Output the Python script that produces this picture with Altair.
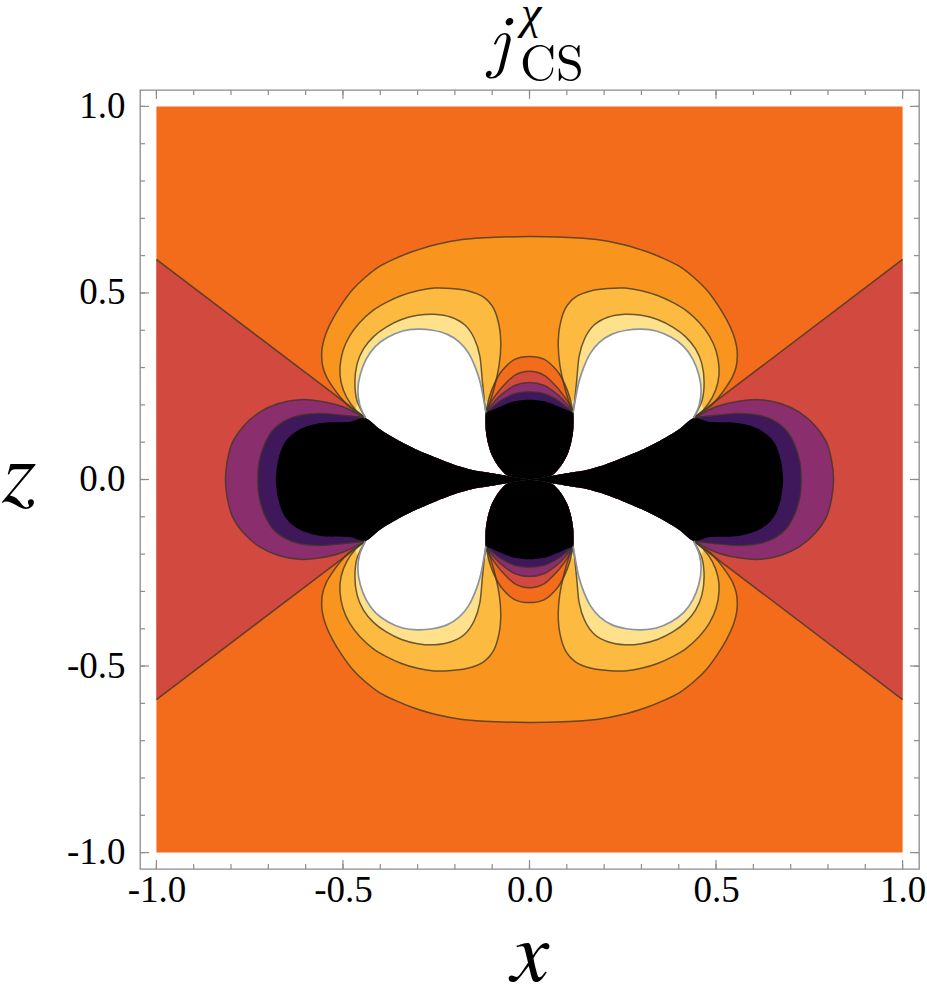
import altair as alt
import pandas as pd

# ---------------- axis data ----------------
TICK_MAJOR = [-1.0, -0.5, 0.0, 0.5, 1.0]
TICK_MINOR = [-1.0, -0.9, -0.8, -0.7, -0.6, -0.5, -0.4, -0.3, -0.2, -0.1, 0.0,
              0.1, 0.2, 0.3, 0.4, 0.5, 0.6, 0.7, 0.8, 0.9, 1.0]
DOMAIN = [-1.044, 1.044]
PLOT_RANGE = [-1.0, 1.0]

# ---------------- band colours (low -> high) ----------------
C_BLACK = "#000000"
C_DPURPLE = "#3e185b"
C_MAGENTA = "#8b2e6e"
C_RED = "#d1493f"
C_ORANGE = "#f26c1b"
C_LORANGE = "#f9951f"
C_YORANGE = "#fdba40"
C_LYELLOW = "#ffe08b"
C_WHITE = "#ffffff"

# ---------------- contour geometry (first quadrant) ----------------
# x-lobe upper edge (= lower edge of white lobe), origin -> junction point P1
E_X = [0.0, 0.03, 0.055, 0.1, 0.15, 0.2, 0.25, 0.3, 0.35, 0.4, 0.44]
E_Z = [0.0, 0.004, 0.009, 0.017, 0.025, 0.039, 0.058, 0.079, 0.104, 0.134, 0.165]
# z-lobe side edge (= left edge of white lobe), origin -> junction point P2
ZE_X = [0.0, 0.055, 0.075, 0.09, 0.103, 0.112, 0.117, 0.118, 0.117]
ZE_Z = [0.0, 0.009, 0.025, 0.045, 0.07, 0.1, 0.13, 0.155, 0.18]
# white lobe cap, P2 -> P1
WC_X = [0.117, 0.124, 0.132, 0.145, 0.163, 0.188, 0.22, 0.26, 0.3, 0.34, 0.38, 0.413, 0.438, 0.454, 0.46, 0.455, 0.44]
WC_Z = [0.18, 0.22, 0.26, 0.3, 0.338, 0.368, 0.389, 0.4, 0.403, 0.398, 0.381, 0.357, 0.322, 0.28, 0.24, 0.2, 0.165]
# light-yellow band outer edge, P2 -> P1
LY_X = [0.117, 0.122, 0.127, 0.133, 0.148, 0.173, 0.21, 0.255, 0.3, 0.343, 0.385, 0.418, 0.445, 0.462, 0.468, 0.462, 0.44]
LY_Z = [0.18, 0.22, 0.27, 0.33, 0.378, 0.414, 0.435, 0.443, 0.44, 0.429, 0.408, 0.383, 0.35, 0.31, 0.26, 0.21, 0.165]
# yellow-orange band outer edge, P2 -> P1
YO_X = [0.117, 0.105, 0.091, 0.081, 0.077, 0.081, 0.096, 0.125, 0.166, 0.21, 0.255, 0.3, 0.343, 0.385, 0.421,
        0.455, 0.482, 0.5, 0.508, 0.505, 0.49, 0.466, 0.44]
YO_Z = [0.18, 0.21, 0.26, 0.31, 0.36, 0.41, 0.458, 0.49, 0.506, 0.512, 0.513, 0.506, 0.493, 0.474, 0.452,
        0.421, 0.385, 0.345, 0.3, 0.26, 0.22, 0.186, 0.165]
# light-orange "peanut" outer edge, z-axis -> P1
PN_X = [0.0, 0.09, 0.18, 0.25, 0.313, 0.36, 0.402, 0.44, 0.474, 0.503, 0.528, 0.546, 0.555, 0.557, 0.554,
        0.544, 0.528, 0.508, 0.484, 0.46, 0.44]
PN_Z = [0.651, 0.649, 0.643, 0.63, 0.611, 0.592, 0.571, 0.542, 0.509, 0.47, 0.429, 0.39, 0.357, 0.33, 0.303,
        0.275, 0.249, 0.222, 0.196, 0.178, 0.165]
# zero line bounding the red wedge
WEDGE_X = [1.0, 0.44]
WEDGE_Z = [0.59, 0.165]
# z-lobe arcs, z-axis -> P2
ZA_X = [0.0, 0.04, 0.075, 0.095, 0.108, 0.117]
ZA_ORANGE = [0.33, 0.322, 0.29, 0.255, 0.22, 0.18]
ZA_RED = [0.29, 0.279, 0.246, 0.22, 0.2, 0.18]
ZA_MAGENTA = [0.26, 0.252, 0.228, 0.208, 0.193, 0.18]
ZA_DPURPLE = [0.235, 0.23, 0.213, 0.198, 0.188, 0.18]
ZA_BLACK = [0.214, 0.21, 0.197, 0.188, 0.183, 0.18]
# x-lobe arcs, P1 -> x-axis
XA_MAG_X = [0.44, 0.5, 0.56, 0.617, 0.675, 0.724, 0.765, 0.796, 0.81, 0.815]
XA_MAG_Z = [0.165, 0.195, 0.21, 0.214, 0.203, 0.18, 0.145, 0.1, 0.05, 0.0]
XA_DP_X = [0.44, 0.5, 0.56, 0.62, 0.66, 0.69, 0.712, 0.725, 0.728]
XA_DP_Z = [0.165, 0.172, 0.177, 0.171, 0.155, 0.13, 0.09, 0.045, 0.0]
XA_BLK_X = [0.44, 0.48, 0.544, 0.585, 0.617, 0.645, 0.662, 0.674, 0.68]
XA_BLK_Z = [0.165, 0.155, 0.153, 0.146, 0.134, 0.113, 0.088, 0.05, 0.0]


# ---------------- helpers to assemble polygons ----------------
def P(xs, zs):
    return list(zip(xs, zs))


def mx(p):
    return [(-x, z) for x, z in p]


def mz(p):
    return [(x, -z) for x, z in p]


def quad(p, sx, sz):
    return [(sx * x, sz * z) for x, z in p]


E = P(E_X, E_Z)
ZE = P(ZE_X, ZE_Z)
P1 = E[-1]
P2 = ZE[-1]

fills = []   # (paint layer, colour, interpolate, shapes)


def zcap(arc):
    return mx(arc)[::-1] + arc[1:]


def xcap(arc):
    return arc + mz(arc)[::-1][1:]


# red wedges
wedge_r = [(1.0, WEDGE_Z[0]), P1, (0.3, 0.0), (P1[0], -P1[1]), (1.0, -WEDGE_Z[0])]
fills.append(("wedge", C_RED, "linear", [wedge_r, mx(wedge_r)]))

# peanut
pn = P(PN_X, PN_Z)
pn_cap = zcap(pn)
pn_up = pn_cap + [P2, (-P2[0], P2[1])]
fills.append(("peanut", C_LORANGE, "cardinal-closed", [pn_up, mz(pn_up)]))

# lobes around white
for name, col, xs, zs in [("yorange", C_YORANGE, YO_X, YO_Z), ("lyellow", C_LYELLOW, LY_X, LY_Z)]:
    base = P(xs, zs)
    fills.append((name, col, "cardinal-closed",
                  [quad(base, sx, sz) for sx in (1, -1) for sz in (1, -1)]))
white = ZE[1:] + P(WC_X, WC_Z)[1:] + E[-2:1:-1]
fills.append(("white", C_WHITE, "cardinal-closed",
              [quad(white, sx, sz) for sx in (1, -1) for sz in (1, -1)]))

# z-lobe stack
for name, col, zs in [("z_orange", C_ORANGE, ZA_ORANGE), ("z_red", C_RED, ZA_RED),
                      ("z_magenta", C_MAGENTA, ZA_MAGENTA), ("z_dpurple", C_DPURPLE, ZA_DPURPLE),
                      ("z_black", C_BLACK, ZA_BLACK)]:
    cap = zcap(P(ZA_X, zs))
    poly = cap + ZE[::-1][1:] + mx(ZE)[1:-1]
    fills.append((name, col, "cardinal-closed", [poly, mz(poly)]))

# x-lobe stack
for name, col, xs, zs in [("x_magenta", C_MAGENTA, XA_MAG_X, XA_MAG_Z),
                          ("x_dpurple", C_DPURPLE, XA_DP_X, XA_DP_Z),
                          ("x_black", C_BLACK, XA_BLK_X, XA_BLK_Z)]:
    arc = P(xs, zs)
    poly = E + xcap(arc)[1:] + mz(E)[::-1][1:-1]
    fills.append((name, col, "cardinal-closed", [poly, mx(poly)]))

# contour lines
dark_lines = []
wl = P(WEDGE_X, WEDGE_Z)
dark_lines += [quad(wl, sx, sz) for sx in (1, -1) for sz in (1, -1)]
dark_lines += [pn_cap, mz(pn_cap)]
for xs, zs in [(YO_X, YO_Z), (LY_X, LY_Z)]:
    dark_lines += [quad(P(xs, zs), sx, sz) for sx in (1, -1) for sz in (1, -1)]
for zs in [ZA_ORANGE, ZA_RED, ZA_MAGENTA, ZA_DPURPLE]:
    c = zcap(P(ZA_X, zs))
    dark_lines += [c, mz(c)]
for xs, zs in [(XA_MAG_X, XA_MAG_Z), (XA_DP_X, XA_DP_Z)]:
    c = xcap(P(xs, zs))
    dark_lines += [c, mx(c)]
gray_lines = [quad(P(WC_X, WC_Z), sx, sz) for sx in (1, -1) for sz in (1, -1)]


def frame(shapes):
    rows = []
    for s, poly in enumerate(shapes):
        for i, (x, z) in enumerate(poly):
            rows.append({"shape": s, "i": i, "x": x, "z": z})
    return pd.DataFrame(rows)


W = 779
H = 779
FONT = "Liberation Serif"
FONT_ITALIC = "TeX Gyre Termes"
FONT_TEX = "Latin Modern Roman"
LABEL_EXPR = "datum.value < 0 ? '-' + format(abs(datum.value), '.1f') : format(datum.value, '.1f')"
xscale = alt.Scale(domain=DOMAIN, nice=False, zero=False)
yscale = alt.Scale(domain=DOMAIN, nice=False, zero=False)
xaxis = alt.Axis(values=TICK_MAJOR, ticks=False, domain=False, grid=False, labelFont=FONT,
                 labelFontSize=37, labelColor="black", labelPadding=3, labelExpr=LABEL_EXPR,
                 labelFlush=False, labelOverlap=False, title=None)
yaxis = alt.Axis(values=TICK_MAJOR, ticks=False, domain=False, grid=False, labelFont=FONT,
                 labelFontSize=37, labelColor="black", labelPadding=15, labelExpr=LABEL_EXPR,
                 labelFlush=False, labelOverlap=False, title=None)


def X(field):
    return alt.X(field, scale=xscale, axis=xaxis)


def Y(field):
    return alt.Y(field, scale=yscale, axis=yaxis)


bg_df = pd.DataFrame({"x0": [PLOT_RANGE[0]], "x1": [PLOT_RANGE[1]],
                      "y0": [PLOT_RANGE[0]], "y1": [PLOT_RANGE[1]]})
layers = [
    alt.Chart(bg_df).mark_rect(color=C_ORANGE).encode(
        x=X("x0:Q"), x2="x1:Q", y=Y("y0:Q"), y2="y1:Q")
]

for name, col, interp, shapes in fills:
    layers.append(
        alt.Chart(frame(shapes)).mark_line(filled=True, fill=col, interpolate=interp, tension=0.2).encode(
            x=X("x:Q"), y=Y("z:Q"), detail="shape:N", order="i:Q"))

layers.append(
    alt.Chart(frame(dark_lines)).mark_line(stroke="#3d3626", strokeOpacity=0.78, strokeWidth=1.5,
                                           interpolate="cardinal", tension=0.2).encode(
        x=X("x:Q"), y=Y("z:Q"), detail="shape:N", order="i:Q"))
layers.append(
    alt.Chart(frame(gray_lines)).mark_line(stroke="#8a94a0", strokeWidth=1.7,
                                           interpolate="cardinal", tension=0.2).encode(
        x=X("x:Q"), y=Y("z:Q"), detail="shape:N", order="i:Q"))

# frame ticks, pointing inwards on all four sides
TICK_COLOR = "#8c8c8c"
for vals, ln in [(TICK_MINOR, 5), (TICK_MAJOR, 9)]:
    tdf = pd.DataFrame({"v": vals})
    layers.append(alt.Chart(tdf).mark_rule(color=TICK_COLOR, strokeWidth=1.2).encode(
        x=X("v:Q"), y=alt.value(0), y2=alt.value(ln)))
    layers.append(alt.Chart(tdf).mark_rule(color=TICK_COLOR, strokeWidth=1.2).encode(
        x=X("v:Q"), y=alt.value(H), y2=alt.value(H - ln)))
    layers.append(alt.Chart(tdf).mark_rule(color=TICK_COLOR, strokeWidth=1.2).encode(
        y=Y("v:Q"), x=alt.value(0), x2=alt.value(ln)))
    layers.append(alt.Chart(tdf).mark_rule(color=TICK_COLOR, strokeWidth=1.2).encode(
        y=Y("v:Q"), x=alt.value(W), x2=alt.value(W - ln)))

# title j^chi_CS and axis titles (positions relative to the plot frame)
TEXTS = [
    ("j", FONT_TEX, 359, -26, 70, "italic", "center"),
    ("χ", FONT, 381, -62, 46, "italic", "left"),
    ("CS", FONT_TEX, 380, -10, 50, "normal", "left"),
    ("z", FONT_ITALIC, -121, 412, 88, "italic", "center"),
    ("x", FONT_ITALIC, 390, 891, 86, "italic", "center"),
]
for t, fnt, px, py, fs, st, al in TEXTS:
    layers.append(alt.Chart(pd.DataFrame({"t": [t]})).mark_text(
        font=fnt, fontSize=fs, fontStyle=st, align=al, baseline="alphabetic", color="black").encode(
        text="t:N", x=alt.value(px), y=alt.value(py)))

chart = alt.layer(*layers).properties(
    width=W, height=H,
    padding={"left": 140, "top": 90, "right": 927 - 140 - W, "bottom": 991 - 90 - H},
    autosize=alt.AutoSizeParams(type="none"),
).configure_view(stroke="#8c8c8c", strokeWidth=1.3)

chart.save("out.html", embed_options={"renderer": "svg", "actions": False})
